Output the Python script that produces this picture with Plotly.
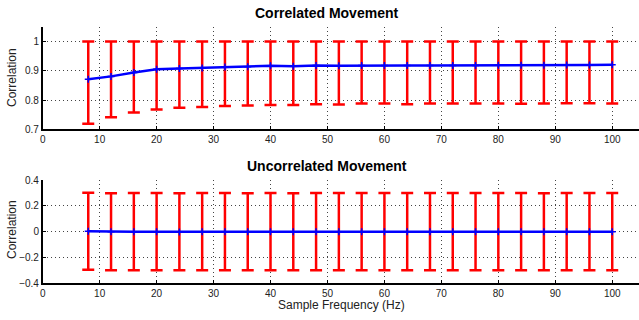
import plotly.graph_objects as go

freq = [8, 12, 16, 20, 24, 28, 32, 36, 40, 44, 48, 52, 56, 60, 64, 68, 72, 76, 80, 84, 88, 92, 96, 100]

corr_mean = [0.871, 0.881, 0.894, 0.905, 0.908, 0.910, 0.913, 0.914, 0.917, 0.916, 0.918, 0.917,
             0.918, 0.918, 0.918, 0.918, 0.918, 0.918, 0.919, 0.919, 0.919, 0.920, 0.920, 0.921]
corr_upper = [1.0] * 24
corr_lower = [0.719, 0.741, 0.757, 0.768, 0.774, 0.776, 0.780, 0.781, 0.783, 0.783, 0.786, 0.785,
              0.788, 0.788, 0.786, 0.788, 0.788, 0.788, 0.788, 0.787, 0.788, 0.789, 0.789, 0.788]

unc_mean = [0.004, 0.0, 0.0, 0.0, -0.002, 0.0, 0.0, 0.0, 0.0, 0.0, 0.0, 0.0,
            0.0, 0.0, 0.0, 0.0, 0.0, 0.0, 0.0, 0.0, 0.0, 0.0, 0.0, 0.0]
unc_upper = [0.301, 0.298, 0.299, 0.299, 0.297, 0.299, 0.299, 0.298, 0.299, 0.298, 0.299, 0.299,
             0.299, 0.299, 0.299, 0.299, 0.299, 0.299, 0.299, 0.299, 0.298, 0.299, 0.299, 0.299]
unc_lower = [-0.296, -0.298, -0.298, -0.299, -0.298, -0.298, -0.298, -0.299, -0.298, -0.298, -0.298, -0.299,
             -0.298, -0.298, -0.298, -0.298, -0.298, -0.298, -0.298, -0.298, -0.298, -0.298, -0.298, -0.298]

top_ticks = [0.7, 0.8, 0.9, 1.0]
top_labels = ["0.7", "0.8", "0.9", "1"]
bot_ticks = [-0.4, -0.2, 0, 0.2, 0.4]
bot_labels = ["\u22120.4", "\u22120.2", "0", "0.2", "0.4"]

fig = go.Figure()

def add_series(mean, upper, lower, xa, ya):
    fig.add_trace(go.Scatter(
        x=freq, y=mean, xaxis=xa, yaxis=ya, mode="lines+markers",
        line=dict(color="#0000ff", width=2.5),
        marker=dict(color="#0000ff", size=5, symbol="cross-thin", line=dict(color="#0000ff", width=1.5)),
        error_y=dict(type="data", symmetric=False,
                     array=[u - m for u, m in zip(upper, mean)],
                     arrayminus=[m - l for m, l in zip(mean, lower)],
                     color="#ff0000", thickness=2.5, width=6),
        showlegend=False))

add_series(corr_mean, corr_upper, corr_lower, "x", "y")
add_series(unc_mean, unc_upper, unc_lower, "x2", "y2")

grid = dict(showgrid=True, gridcolor="#444444", griddash="1px,3px", gridwidth=1,
            showline=True, linecolor="black", linewidth=1.5, ticks="inside", ticklen=4,
            tickcolor="black", zeroline=False, automargin=False,
            tickfont=dict(size=10, color="#222"))

W, H = 639, 320
xd = [42.7 / W, 1.0]
fig.update_layout(
    width=W, height=H, margin=dict(l=0, r=0, t=0, b=0),
    plot_bgcolor="white", paper_bgcolor="white",
    font=dict(family="Liberation Sans, Arial, sans-serif", color="#222"),
    xaxis=dict(domain=xd, range=[0, 104.7], dtick=10, anchor="y", **grid),
    yaxis=dict(domain=[0.596, 0.9166], range=[0.7, 1.051], tickvals=top_ticks,
               ticktext=top_labels, anchor="x", **grid),
    xaxis2=dict(domain=xd, range=[0, 104.7], dtick=10, anchor="y2", **grid),
    yaxis2=dict(domain=[0.1147, 0.4375], range=[-0.4, 0.4], tickvals=bot_ticks,
                ticktext=bot_labels, anchor="x2", **grid),
)

def label(text, px, py, size, angle=0, bold=False):
    fig.add_annotation(text=f"<b>{text}</b>" if bold else text, x=px / W, y=1 - py / H,
                       xref="paper", yref="paper", showarrow=False, textangle=angle,
                       xanchor="center", yanchor="middle",
                       font=dict(size=size, color="black" if bold else "#222"))

label("Correlated Movement", 327, 13, 14, bold=True)
label("Uncorrelated Movement", 327, 166, 14, bold=True)
label("Correlation", 12, 78, 12, angle=-90)
label("Correlation", 12, 230, 12, angle=-90)
label("Sample Frequency (Hz)", 342, 305, 12)

fig.write_html("out.html", config={"displayModeBar": False},
               post_script="document.body.style.margin='0';document.body.style.padding='0';")
